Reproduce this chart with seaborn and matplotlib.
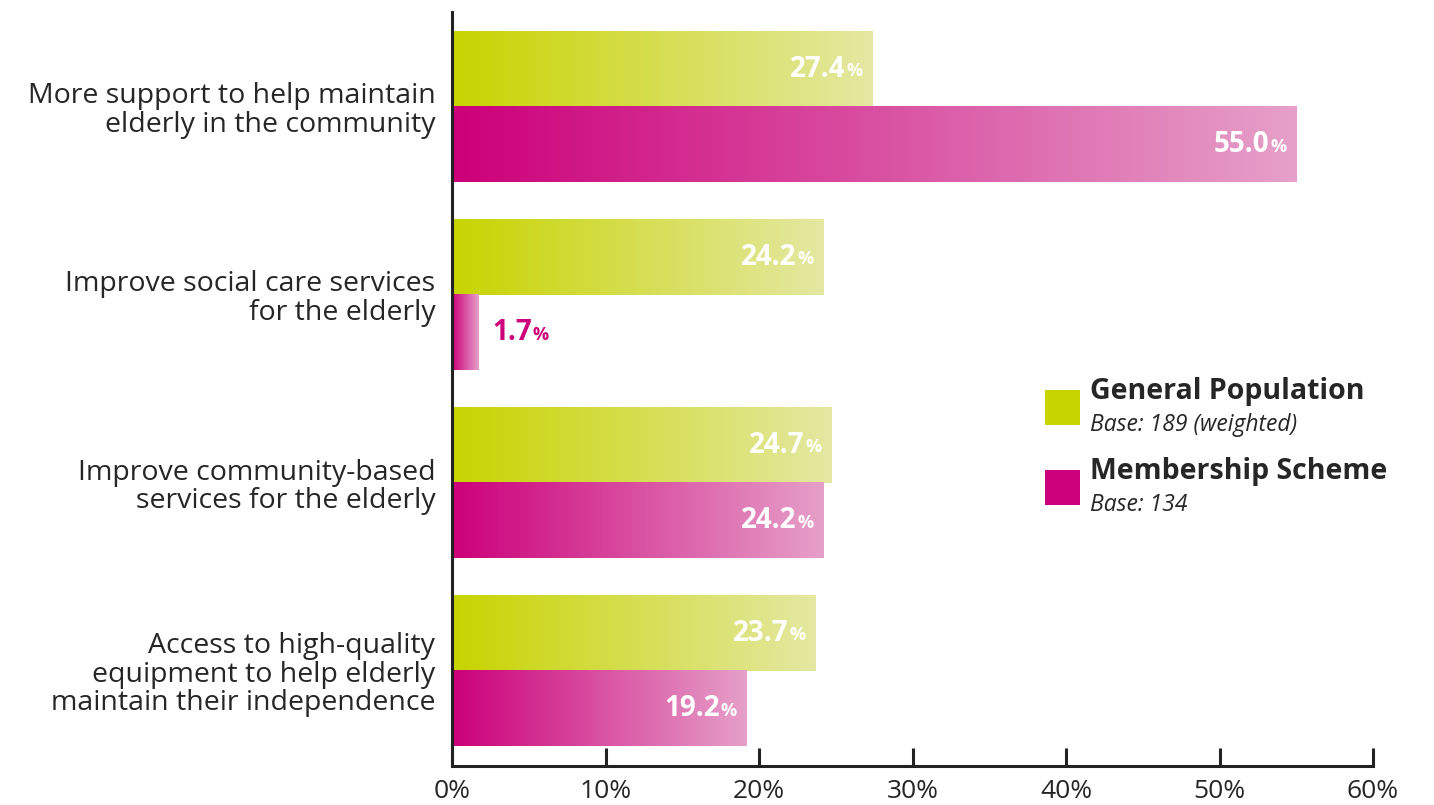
import numpy as np
import pandas as pd
import matplotlib
matplotlib.use("Agg")
import matplotlib.pyplot as plt
import seaborn as sns
from matplotlib.colors import LinearSegmentedColormap
from matplotlib.patches import Rectangle

categories = [
    "More support to help maintain\nelderly in the community",
    "Improve social care services\nfor the elderly",
    "Improve community-based\nservices for the elderly",
    "Access to high-quality\nequipment to help elderly\nmaintain their independence",
]
general_population = [27.4, 24.2, 24.7, 23.7]
membership_scheme = [55.0, 1.7, 24.2, 19.2]
groups = ["General Population", "Membership Scheme"]
group_bases = ["Base: 189 (weighted)", "Base: 134"]
tick_values = [0, 10, 20, 30, 40, 50, 60]
tick_labels = ["0%", "10%", "20%", "30%", "40%", "50%", "60%"]

GREEN_DARK, GREEN_LIGHT = "#c8d400", "#e4e8a2"
PINK_DARK, PINK_LIGHT = "#cc007a", "#e6a0c9"
TEXT = "#262626"

df = pd.DataFrame({
    "category": categories * 2,
    "value": general_population + membership_scheme,
    "group": [groups[0]] * 4 + [groups[1]] * 4,
})

sns.set_style("white")
plt.rcParams["font.family"] = ["Open Sans", "DejaVu Sans"]

W, H = 1434, 805
fig = plt.figure(figsize=(W / 100, H / 100), dpi=100)
ax = fig.add_axes([452 / W, 1 - 766 / H, (1373 - 452) / W, (766 - 12) / H])

sns.barplot(data=df, y="category", x="value", hue="group", orient="h",
            hue_order=groups, order=categories,
            palette=[GREEN_DARK, PINK_DARK], width=0.8, dodge=True,
            legend=False, ax=ax, saturation=1)

cmaps = [LinearSegmentedColormap.from_list("g", [GREEN_DARK, GREEN_LIGHT]),
         LinearSegmentedColormap.from_list("p", [PINK_DARK, PINK_LIGHT])]
grad = np.linspace(0, 1, 256).reshape(1, -1)
values = [general_population, membership_scheme]
renderer = fig.canvas.get_renderer()

NUM_SIZE, PCT_SIZE = 20, 13

for gi, container in enumerate(ax.containers):
    for ci, bar in enumerate(container):
        x0, y0 = bar.get_x(), bar.get_y()
        w, h = bar.get_width(), bar.get_height()
        ax.imshow(grad, cmap=cmaps[gi], aspect="auto",
                  extent=[x0, x0 + w, y0 + h, y0], zorder=2,
                  interpolation="bicubic")
        bar.set_visible(False)
        v = values[gi][ci]
        yc = y0 + h / 2
        if v >= 5:
            pct = ax.annotate("%", (x0 + w, yc), xytext=(-10, -2), textcoords="offset pixels",
                              ha="right", va="center", color="white", fontsize=PCT_SIZE,
                              fontweight="bold", zorder=3)
            pw = pct.get_window_extent(renderer).width
            ax.annotate(f"{v:.1f}", (x0 + w, yc), xytext=(-10 - pw - 1, 0),
                        textcoords="offset pixels", ha="right", va="center",
                        color="white", fontsize=NUM_SIZE, fontweight="bold", zorder=3)
        else:
            num = ax.annotate(f"{v:.1f}", (x0 + w, yc), xytext=(14, 0),
                              textcoords="offset pixels", ha="left", va="center",
                              color=PINK_DARK, fontsize=NUM_SIZE, fontweight="bold", zorder=3)
            nw = num.get_window_extent(renderer).width
            ax.annotate("%", (x0 + w, yc), xytext=(14 + nw + 1, -2), textcoords="offset pixels",
                        ha="left", va="center", color=PINK_DARK, fontsize=PCT_SIZE,
                        fontweight="bold", zorder=3)

ax.set_xlim(0, 60)
ax.set_ylim(3.505, -0.505)
ax.set_xticks(tick_values)
ax.set_xticklabels(tick_labels)
ax.set_xlabel("")
ax.set_ylabel("")
ax.tick_params(axis="x", direction="in", length=13, width=2.2, color="#222222",
               labelsize=19, labelcolor=TEXT, pad=9, bottom=True)
ax.tick_params(axis="y", length=0, labelsize=20.5, labelcolor=TEXT, pad=12)
for lbl in ax.get_yticklabels():
    lbl.set_horizontalalignment("right")
    lbl.set_linespacing(1.03)
for side in ["top", "right"]:
    ax.spines[side].set_visible(False)
for side in ["left", "bottom"]:
    ax.spines[side].set_color("#222222")
    ax.spines[side].set_linewidth(2.2)
ax.grid(False)

# legend block
for i, (name, base, col) in enumerate(zip(groups, group_bases, [GREEN_DARK, PINK_DARK])):
    top = 390 + i * 80
    fig.patches.append(Rectangle((1045 / W, 1 - (top + 35) / H), 35 / W, 35 / H,
                                 transform=fig.transFigure, facecolor=col,
                                 edgecolor="none"))
    fig.text(1090 / W, 1 - (top + 1) / H, name, fontsize=20.5, fontweight="bold",
             color=TEXT, ha="left", va="center")
    fig.text(1090 / W, 1 - (top + 35) / H, base, fontsize=16.5, fontstyle="italic",
             color=TEXT, ha="left", va="center")

fig.savefig("out.png", dpi=100, facecolor="white")
